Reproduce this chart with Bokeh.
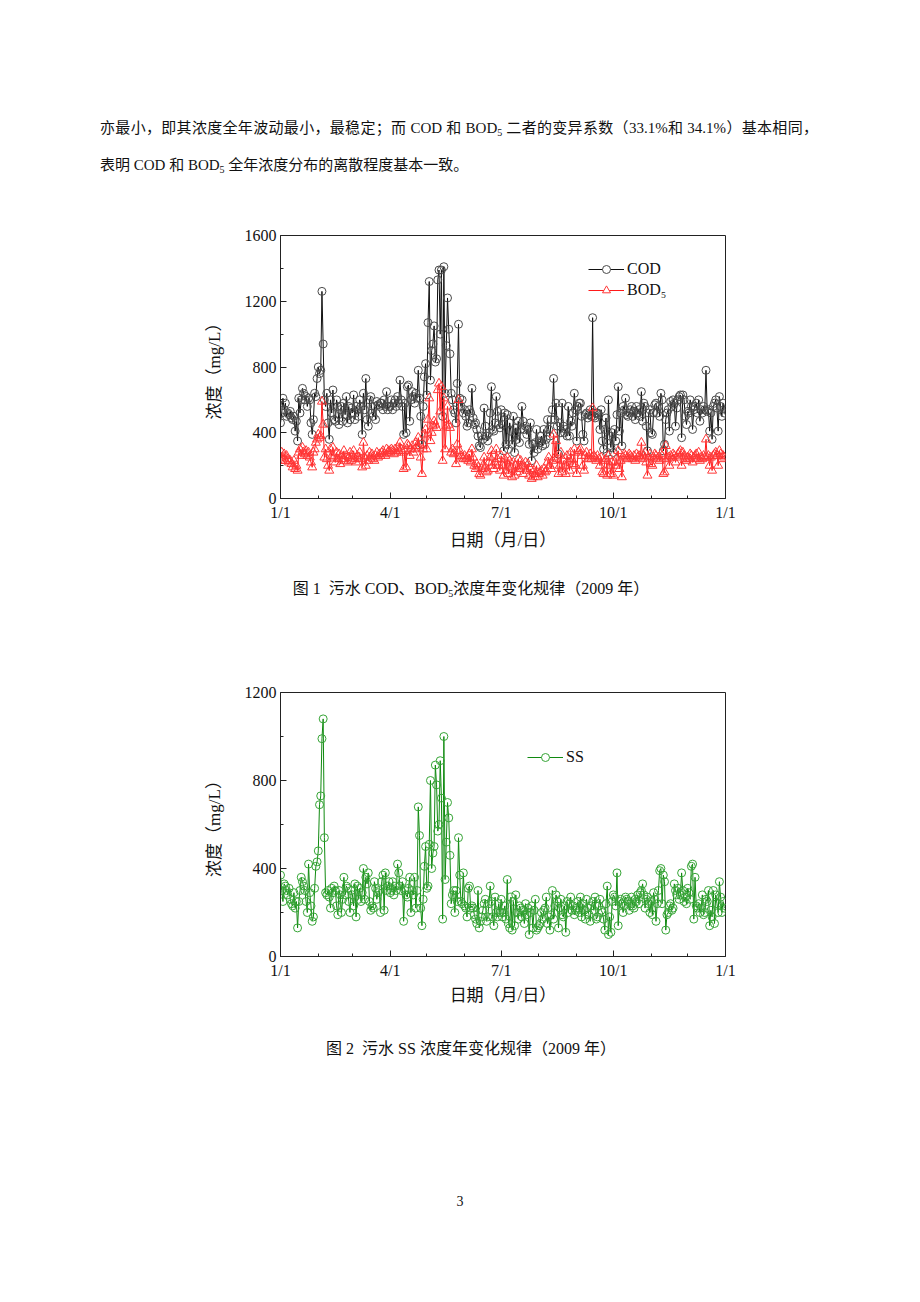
from bokeh.plotting import figure
from bokeh.models import FixedTicker, Legend, LegendItem, Div, Range1d, ColumnDataSource
from bokeh.layouts import column
from bokeh.embed import file_html
from bokeh.resources import INLINE

# ---------------- data (daily values, 2009, index 0 = 1 Jan) ----------------
cod = [
    460, 520, 610, 540, 580, 500, 520, 510, 530, 490, 480, 500, 410, 470, 350, 610, 520, 600, 670, 640, 600, 620, 560, 610, 600, 460, 390, 480, 640, 620, 730,  # Jan
    800, 760, 780, 1260, 940, 600, 560, 640, 460, 360, 600, 520, 660, 480, 470, 600, 560, 450, 540, 560, 470, 580, 510, 620, 460, 560, 480, 550,  # Feb
    520, 630, 480, 560, 540, 500, 600, 560, 390, 640, 540, 730, 480, 440, 600, 620, 520, 500, 560, 480, 590, 570, 560, 580, 580, 540, 600, 560, 650, 540, 560,  # Mar
    560, 600, 540, 580, 600, 560, 620, 580, 720, 600, 560, 390, 580, 400, 680, 690, 470, 600, 650, 620, 580, 640, 610, 780, 610, 500, 330, 560, 740, 820,  # Apr
    630, 1070, 1320, 720, 900, 940, 1050, 830, 850, 1330, 1390, 1000, 1390, 500, 1410, 640, 930, 1220, 1030, 880, 640, 600, 540, 520, 460, 700, 1060, 610, 560, 600, 520,  # May
    540, 500, 440, 460, 540, 520, 670, 490, 450, 460, 420, 380, 320, 310, 380, 360, 550, 440, 380, 350, 400, 520, 680, 420, 410, 460, 620, 530, 450, 430,  # Jun
    540, 450, 290, 520, 330, 510, 300, 460, 410, 330, 500, 280, 430, 360, 470, 340, 420, 560, 470, 420, 440, 390, 420, 330, 460, 230, 330, 280, 340, 420, 300,  # Jul
    350, 340, 380, 320, 420, 330, 360, 480, 420, 380, 480, 540, 730, 480, 580, 440, 270, 460, 400, 580, 440, 400, 420, 380, 560, 380, 470, 440, 520, 640, 540,  # Aug
    350, 560, 580, 580, 500, 390, 350, 510, 520, 490, 510, 540, 500, 1100, 500, 490, 520, 520, 510, 420, 540, 350, 300, 420, 490, 280, 600, 380, 310, 400,  # Sep
    280, 420, 350, 510, 680, 410, 520, 320, 560, 540, 610, 510, 500, 520, 540, 560, 500, 530, 480, 560, 520, 540, 500, 650, 470, 580, 560, 440, 290, 520, 540,  # Oct
    400, 390, 520, 570, 580, 520, 560, 500, 640, 600, 290, 330, 480, 520, 540, 410, 590, 560, 600, 580, 440, 550, 600, 620, 630, 370, 630, 600, 500, 450,  # Nov
    530, 520, 600, 560, 420, 540, 560, 580, 520, 600, 470, 540, 520, 560, 540, 780, 530, 540, 410, 520, 360, 560, 580, 600, 550, 410, 620, 560, 500, 580, 520,  # Dec
]

bod5 = [
    230, 280, 250, 270, 230, 260, 240, 220, 230, 210, 190, 230, 180, 200, 170, 280, 300, 260, 310, 280, 270, 290, 260, 280, 250, 220, 190, 280, 300, 340, 360,  # Jan
    390, 370, 380, 590, 450, 250, 300, 240, 200, 170, 300, 260, 310, 250, 220, 280, 240, 270, 210, 260, 240, 290, 230, 260, 220, 250, 280, 230,  # Feb
    260, 290, 240, 220, 260, 250, 280, 240, 190, 340, 250, 200, 260, 230, 280, 250, 270, 240, 230, 260, 280, 250, 270, 260, 280, 290, 270, 260, 300, 280, 290,  # Mar
    280, 300, 290, 270, 300, 280, 310, 290, 340, 300, 280, 180, 290, 190, 330, 320, 260, 300, 320, 280, 300, 340, 320, 370, 310, 250, 150, 300, 390, 420,  # Apr
    300, 480, 610, 350, 400, 440, 470, 450, 430, 660, 700, 530, 680, 230, 610, 300, 440, 560, 450, 430, 280, 300, 270, 280, 210, 330, 600, 290, 260, 250, 240,  # May
    260, 240, 250, 230, 270, 220, 300, 250, 200, 180, 210, 190, 150, 140, 180, 200, 250, 190, 160, 170, 220, 250, 290, 200, 180, 220, 300, 240, 200, 170,  # Jun
    260, 200, 140, 240, 170, 250, 150, 230, 190, 130, 220, 140, 200, 160, 240, 180, 230, 200, 150, 190, 220, 170, 210, 140, 180, 120, 130, 170, 150, 200, 130,  # Jul
    150, 160, 170, 140, 180, 160, 170, 220, 250, 200, 180, 230, 390, 250, 350, 240, 150, 200, 280, 160, 230, 200, 150, 260, 220, 170, 280, 240, 210, 300, 200,  # Aug
    150, 280, 290, 300, 260, 200, 170, 260, 280, 240, 250, 270, 240, 550, 260, 250, 230, 260, 240, 200, 250, 160, 150, 230, 240, 140, 260, 200, 150, 220,  # Sep
    140, 220, 200, 250, 290, 180, 230, 130, 250, 270, 260, 240, 250, 270, 260, 250, 240, 260, 230, 270, 250, 260, 250, 340, 240, 260, 280, 220, 140, 250, 270,  # Oct
    210, 200, 250, 270, 260, 240, 250, 230, 270, 260, 150, 160, 320, 240, 250, 200, 260, 250, 270, 260, 220, 250, 270, 280, 290, 200, 280, 260, 240, 230,  # Nov
    250, 240, 270, 260, 220, 250, 260, 270, 240, 280, 230, 250, 240, 260, 250, 360, 250, 260, 200, 250, 170, 260, 270, 280, 260, 200, 290, 270, 240, 260, 250,  # Dec
]

ss = [
    370, 300, 250, 330, 320, 300, 280, 310, 260, 240, 230, 290, 220, 250, 130, 250, 300, 360, 340, 320, 300, 250, 200, 420, 290, 230, 160, 180, 310, 410, 430,  # Jan
    480, 690, 730, 990, 1080, 540, 290, 280, 300, 270, 220, 310, 290, 320, 300, 230, 190, 300, 280, 200, 260, 360, 280, 320, 310, 250, 200, 300,  # Feb
    280, 230, 330, 180, 320, 260, 310, 250, 290, 400, 260, 360, 330, 380, 250, 210, 230, 220, 340, 310, 260, 290, 300, 200, 340, 370, 210, 380, 300, 320, 340,  # Mar
    290, 300, 340, 280, 320, 300, 420, 380, 320, 300, 340, 160, 300, 280, 270, 310, 360, 200, 300, 280, 360, 220, 300, 680, 550, 220, 140, 260, 410, 500,  # Apr
    310, 320, 510, 800, 400, 470, 500, 870, 780, 570, 600, 890, 720, 170, 1000, 350, 520, 700, 630, 460, 240, 280, 300, 200, 300, 250, 540, 370, 250, 240, 380,  # May
    230, 220, 180, 310, 320, 220, 230, 220, 190, 170, 150, 300, 130, 160, 180, 210, 240, 260, 160, 180, 240, 320, 250, 180, 140, 270, 200, 180, 240, 200,  # Jun
    260, 180, 200, 230, 170, 350, 150, 130, 270, 120, 250, 140, 280, 200, 170, 230, 220, 180, 210, 150, 240, 190, 220, 100, 200, 230, 130, 210, 260, 120, 130,  # Jul
    140, 150, 200, 170, 210, 220, 270, 150, 180, 120, 190, 300, 170, 230, 280, 250, 130, 220, 260, 190, 180, 230, 110, 250, 200, 240, 270, 210, 230, 190, 210,  # Aug
    220, 250, 200, 270, 180, 240, 210, 170, 260, 220, 190, 160, 230, 250, 210, 270, 170, 180, 230, 260, 210, 200, 170, 120, 240, 320, 100, 180, 110, 250,  # Sep
    280, 270, 230, 380, 140, 250, 260, 240, 200, 230, 270, 260, 250, 210, 240, 270, 230, 220, 260, 250, 280, 240, 290, 300, 330, 280, 220, 260, 270, 240, 200,  # Oct
    250, 190, 290, 260, 160, 240, 300, 390, 400, 240, 370, 340, 120, 190, 200, 230, 240, 210, 220, 330, 300, 280, 310, 260, 280, 380, 300, 250, 270, 240,  # Nov
    310, 290, 260, 410, 420, 170, 360, 230, 220, 240, 200, 220, 280, 190, 200, 260, 250, 300, 140, 210, 180, 300, 150, 280, 240, 200, 340, 270, 200, 250, 220,  # Dec
]

major_days = [0, 90, 181, 273, 365]
major_labels = ["1/1", "4/1", "7/1", "10/1", "1/1"]
minor_days = [31, 59, 120, 151, 212, 243, 304, 334]

y1_major = [0, 400, 800, 1200, 1600]
y1_minor = [200, 600, 1000, 1400]
y2_major = [0, 400, 800, 1200]
y2_minor = [200, 600, 1000]

SERIF = "'Liberation Serif', 'Noto Sans CJK SC'"
CSS_FONT = "'Liberation Serif', 'Noto Sans CJK SC', serif"


def make_fig(height, top, bottom, ymax, ymaj, ymin, xstandoff):
    p = figure(width=920, height=height, x_range=Range1d(0, 365), y_range=Range1d(0, ymax),
               output_backend="svg", toolbar_location=None,
               min_border_left=280, min_border_right=195,
               min_border_top=top, min_border_bottom=bottom,
               background_fill_color="white", border_fill_color="white")
    p.xgrid.visible = False
    p.ygrid.visible = False
    p.outline_line_color = "#222222"
    p.outline_line_width = 1
    p.outline_line_alpha = 1
    p.xaxis.ticker = FixedTicker(ticks=major_days, minor_ticks=minor_days)
    p.xaxis.major_label_overrides = {d: l for d, l in zip(major_days, major_labels)}
    p.yaxis.ticker = FixedTicker(ticks=ymaj, minor_ticks=ymin)
    for ax in (p.xaxis[0], p.yaxis[0]):
        ax.major_tick_in = 6
        ax.major_tick_out = 0
        ax.minor_tick_in = 3
        ax.minor_tick_out = 0
        ax.axis_line_color = "#222222"
        ax.major_tick_line_color = "#222222"
        ax.minor_tick_line_color = "#222222"
        ax.major_label_text_font = SERIF
        ax.major_label_text_font_size = "16px"
        ax.major_label_text_color = "#111111"
        ax.axis_label_text_font = SERIF
        ax.axis_label_text_font_size = "17px"
        ax.axis_label_text_font_style = "normal"
        ax.axis_label_text_color = "#111111"
    p.xaxis.axis_label = "日期（月/日）"
    p.yaxis.axis_label = "浓度（mg/L）"
    p.xaxis.major_label_standoff = 5
    p.yaxis.major_label_standoff = 4
    p.xaxis.axis_label_standoff = xstandoff
    p.yaxis.axis_label_standoff = 18
    return p


days = list(range(len(cod)))
src = ColumnDataSource(dict(day=days, cod=cod, bod5=bod5[:len(days)]))
src_ss = ColumnDataSource(dict(day=list(range(len(ss))), ss=ss))
# one off-range point, only used to draw the legend swatch with a white-filled marker
legend_src = ColumnDataSource(dict(day=[-1000], v=[-1000]))

# ---------------- figure 1 ----------------
p1 = make_fig(360, 35, 62, 1600, y1_major, y1_minor, 7)
l_cod = p1.line("day", "cod", source=src, line_color="#111111", line_width=1)
s_cod = p1.scatter("day", "cod", source=src, marker="circle", size=8,
                   line_color="#4a4a4a", fill_color=None, line_width=1)
l_bod = p1.line("day", "bod5", source=src, line_color="#ff1a1a", line_width=1)
s_bod = p1.scatter("day", "bod5", source=src, marker="triangle", size=9,
                   line_color="#ff3838", fill_color=None, line_width=1)
lg_cod = p1.scatter("day", "v", source=legend_src, marker="circle", size=8,
                    line_color="#4a4a4a", fill_color="white")
lg_bod = p1.scatter("day", "v", source=legend_src, marker="triangle", size=9,
                    line_color="#ff3838", fill_color="white")
leg1 = Legend(items=[LegendItem(label="COD", renderers=[l_cod, lg_cod]),
                     LegendItem(label="BOD₅", renderers=[l_bod, lg_bod])],
              location=(308, 198), border_line_color=None, background_fill_alpha=0,
              padding=0, margin=0, spacing=1, glyph_width=36, glyph_height=20,
              label_height=20, label_standoff=3, label_text_font=SERIF,
              label_text_font_size="16px", label_text_color="#111111")
p1.add_layout(leg1)

# ---------------- figure 2 ----------------
p2 = make_fig(350, 32, 54, 1200, y2_major, y2_minor, 4)
l_ss = p2.line("day", "ss", source=src_ss, line_color="#108a10", line_width=1)
s_ss = p2.scatter("day", "ss", source=src_ss, marker="circle", size=8,
                  line_color="#36a536", fill_color=None, line_width=1)
lg_ss = p2.scatter("day", "v", source=legend_src, marker="circle", size=8,
                   line_color="#36a536", fill_color="white")
leg2 = Legend(items=[LegendItem(label="SS", renderers=[l_ss, lg_ss])],
              location=(247, 189), border_line_color=None, background_fill_alpha=0,
              padding=0, margin=0, spacing=1, glyph_width=36, glyph_height=20,
              label_height=20, label_standoff=3, label_text_font=SERIF,
              label_text_font_size="16px", label_text_color="#111111")
p2.add_layout(leg2)

# ---------------- page texts ----------------
sub5 = '<span style="font-size:10px;vertical-align:-3px">5</span>'
text_top = (
    f'<div style="position:relative;width:920px;height:200px;font-family:{CSS_FONT};'
    'font-size:15px;color:#111;">'
    '<div style="position:absolute;left:100px;top:118px;width:718px;line-height:20px;'
    'text-align:justify;text-align-last:justify;">'
    f'亦最小，即其浓度全年波动最小，最稳定；而 COD 和 BOD{sub5} 二者的变异系数（33.1%和 34.1%）基本相同，</div>'
    '<div style="position:absolute;left:100px;top:155px;line-height:20px;white-space:nowrap;">'
    f'表明 COD 和 BOD{sub5} 全年浓度分布的离散程度基本一致。</div></div>'
)
text_cap1 = (
    f'<div style="position:relative;width:920px;height:100px;font-family:{CSS_FONT};'
    'font-size:16px;color:#111;">'
    '<div style="position:absolute;left:171px;top:19px;width:600px;line-height:20px;'
    'text-align:center;white-space:nowrap;">'
    f'图 1&nbsp; 污水 COD、BOD{sub5}浓度年变化规律（2009 年）</div></div>'
)
text_cap2 = (
    f'<div style="position:relative;width:920px;height:292px;font-family:{CSS_FONT};'
    'font-size:16px;color:#111;">'
    '<div style="position:absolute;left:171px;top:29px;width:600px;line-height:20px;'
    'text-align:center;white-space:nowrap;">'
    '图 2&nbsp; 污水 SS 浓度年变化规律（2009 年）</div>'
    '<div style="position:absolute;left:410px;top:182px;width:100px;line-height:20px;'
    'text-align:center;font-size:14px;">3</div></div>'
)

d1 = Div(text=text_top, width=920, height=200, margin=0)
d2 = Div(text=text_cap1, width=920, height=100, margin=0)
d3 = Div(text=text_cap2, width=920, height=292, margin=0)
for f in (p1, p2):
    f.margin = 0

page = column(d1, p1, d2, p2, d3, spacing=0, margin=0, width=920)
open("out.html", "w").write(file_html(page, INLINE, title="污水浓度年变化规律"))
